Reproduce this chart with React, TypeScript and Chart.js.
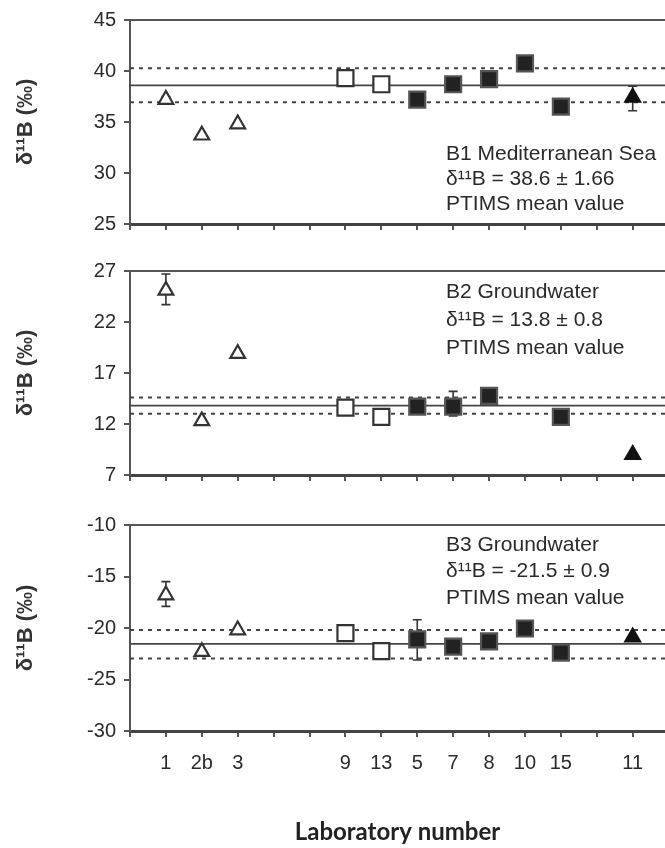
import React, { useEffect, useRef } from 'react';
import { Chart, registerables } from 'chart.js';

Chart.register(...registerables);

// ---- categories (laboratories) ----
const labs = ['1', '2b', '3', '9', '13', '5', '7', '8', '10', '15', '11'];
const labSlots = [1, 2, 3, 6, 7, 8, 9, 10, 11, 12, 14];
const labGroups = ['openTri', 'openTri', 'openTri', 'openSq', 'openSq', 'fillSq', 'fillSq', 'fillSq', 'fillSq', 'fillSq', 'fillTri'];

// ---- B1 Mediterranean Sea ----
const b1Values = [37.2, 33.7, 34.8, 39.3, 38.7, 37.2, 38.7, 39.2, 40.75, 36.5, 37.4];
const b1ErrLow = [36.95, null, null, null, null, 36.9, null, null, null, 36.2, 36.1];
const b1ErrHigh = [37.5, null, null, null, null, 37.5, null, null, null, 36.9, 38.5];
const b1Mean = 38.6;
const b1Band = [36.94, 40.26];
const b1Ticks = [25, 30, 35, 40, 45];
const b1Text = ['B1 Mediterranean Sea', 'δ¹¹B = 38.6 ± 1.66', 'PTIMS mean value'];

// ---- B2 Groundwater ----
const b2Values = [25.1, 12.3, 18.9, 13.6, 12.7, 13.7, 13.7, 14.75, null, 12.7, 9.0];
const b2ErrLow = [23.7, null, null, 13.0, null, null, 12.8, null, null, null, null];
const b2ErrHigh = [26.7, null, null, 14.1, null, null, 15.2, null, null, null, null];
const b2Mean = 13.8;
const b2Band = [13.0, 14.6];
const b2Ticks = [7, 12, 17, 22, 27];
const b2Text = ['B2 Groundwater', 'δ¹¹B = 13.8 ± 0.8', 'PTIMS mean value'];

// ---- B3 Groundwater ----
const b3Values = [-16.8, -22.3, -20.2, -20.5, -22.25, -21.1, -21.8, -21.3, -20.05, -22.4, -20.9];
const b3ErrLow = [-17.9, null, null, null, null, -23.1, null, null, null, null, null];
const b3ErrHigh = [-15.5, null, null, null, null, -19.2, null, null, null, null, null];
const b3Mean = -21.55;
const b3Band = [-22.97, -20.2];
const b3Ticks = [-30, -25, -20, -15, -10];
const b3Text = ['B3 Groundwater', 'δ¹¹B = -21.5 ± 0.9', 'PTIMS mean value'];

const X_MIN = 0;
const X_MAX = 14.9;
const FONT = '"Liberation Sans", Arial, Helvetica, sans-serif';

const groupStyle: Record<string, any> = {
  openTri: { pointStyle: 'triangle', radius: 8.5, bg: '#ffffff', border: '#333333' },
  openSq: { pointStyle: 'rect', radius: 11.3, bg: '#ffffff', border: '#333333' },
  fillSq: { pointStyle: 'rect', radius: 11.3, bg: '#222222', border: '#555555' },
  fillTri: { pointStyle: 'triangle', radius: 8.5, bg: '#111111', border: '#111111' },
};

const errorBarPlugin = {
  id: 'errorBars',
  beforeDatasetsDraw(chart: any, _args: any, opts: any) {
    const { ctx } = chart;
    const xs = chart.scales.x;
    const ys = chart.scales.y;
    const low = opts.low || [];
    const high = opts.high || [];
    ctx.save();
    ctx.strokeStyle = '#333';
    ctx.lineWidth = 1.6;
    for (let i = 0; i < labSlots.length; i++) {
      if (low[i] == null || high[i] == null) continue;
      const x = xs.getPixelForValue(labSlots[i]);
      const y1 = ys.getPixelForValue(low[i]);
      const y2 = ys.getPixelForValue(high[i]);
      ctx.beginPath();
      ctx.moveTo(x, y1);
      ctx.lineTo(x, y2);
      ctx.moveTo(x - 4.5, y1);
      ctx.lineTo(x + 4.5, y1);
      ctx.moveTo(x - 4.5, y2);
      ctx.lineTo(x + 4.5, y2);
      ctx.stroke();
    }
    ctx.restore();
  },
};

const framePlugin = {
  id: 'frameText',
  afterDraw(chart: any, _args: any, opts: any) {
    const { ctx, chartArea } = chart;
    ctx.save();
    // top border
    ctx.strokeStyle = '#555';
    ctx.lineWidth = 2;
    ctx.beginPath();
    ctx.moveTo(chartArea.left, chartArea.top);
    ctx.lineTo(chartArea.right, chartArea.top);
    ctx.stroke();
    // annotation text
    const lines: string[] = opts.lines || [];
    ctx.fillStyle = '#2a2a2a';
    ctx.font = `21px ${FONT}`;
    ctx.textAlign = 'left';
    ctx.textBaseline = 'middle';
    const x = chart.scales.x.getPixelForValue(opts.textX);
    lines.forEach((t, k) => {
      ctx.fillText(t, x, chartArea.top + opts.textTop + k * opts.lineGap);
    });
    ctx.restore();
  },
};

interface PanelCfg {
  values: (number | null)[];
  errLow: (number | null)[];
  errHigh: (number | null)[];
  mean: number;
  band: number[];
  ticks: number[];
  text: string[];
  top: number;
  height: number;
  padTop: number;
  xHeight: number;
  textTop: number;
  lineGap: number;
  bottom: boolean;
}

const panels: PanelCfg[] = [
  { values: b1Values, errLow: b1ErrLow, errHigh: b1ErrHigh, mean: b1Mean, band: b1Band, ticks: b1Ticks, text: b1Text, top: 0, height: 250, padTop: 16, xHeight: 26, textTop: 134, lineGap: 25, bottom: false },
  { values: b2Values, errLow: b2ErrLow, errHigh: b2ErrHigh, mean: b2Mean, band: b2Band, ticks: b2Ticks, text: b2Text, top: 250, height: 255, padTop: 21, xHeight: 30, textTop: 21, lineGap: 28, bottom: false },
  { values: b3Values, errLow: b3ErrLow, errHigh: b3ErrHigh, mean: b3Mean, band: b3Band, ticks: b3Ticks, text: b3Text, top: 505, height: 343, padTop: 20, xHeight: 117, textTop: 20, lineGap: 26.5, bottom: true },
];

function Panel({ cfg }: { cfg: PanelCfg }) {
  const ref = useRef<HTMLCanvasElement>(null);
  useEffect(() => {
    const groups = ['openTri', 'openSq', 'fillSq', 'fillTri'];
    const pointSets = groups.map((g) => {
      const st = groupStyle[g];
      const data: any[] = [];
      labs.forEach((_, i) => {
        if (labGroups[i] === g && cfg.values[i] != null) data.push({ x: labSlots[i], y: cfg.values[i] });
      });
      return {
        type: 'scatter' as const,
        data,
        order: 0,
        pointStyle: st.pointStyle,
        pointRadius: st.radius,
        pointBackgroundColor: st.bg,
        pointBorderColor: st.border,
        pointBorderWidth: 2.2,
        showLine: false,
      };
    });
    const refLine = (y: number, dashed: boolean) => ({
      type: 'line' as const,
      data: [{ x: X_MIN, y }, { x: X_MAX, y }],
      order: 10,
      borderColor: '#444',
      borderWidth: dashed ? 2 : 1.8,
      borderDash: dashed ? [4, 5] : [],
      pointRadius: 0,
      fill: false,
    });
    const lineSets = [refLine(cfg.mean, false), refLine(cfg.band[0], true), refLine(cfg.band[1], true)];

    const chart = new Chart(ref.current as HTMLCanvasElement, {
      type: 'scatter',
      data: { datasets: [...pointSets, ...lineSets] as any },
      plugins: [errorBarPlugin, framePlugin],
      options: {
        animation: false,
        responsive: false,
        devicePixelRatio: 1,
        layout: { autoPadding: false, padding: { top: cfg.padTop, left: 0, right: 0, bottom: 0 } },
        plugins: {
          legend: { display: false },
          tooltip: { enabled: false },
          errorBars: { low: cfg.errLow, high: cfg.errHigh },
          frameText: { lines: cfg.text, textX: 8.8, textTop: cfg.textTop, lineGap: cfg.lineGap },
        } as any,
        scales: {
          x: {
            type: 'linear',
            min: X_MIN,
            max: X_MAX,
            afterFit: (s: any) => {
              s.height = cfg.xHeight;
              s.paddingLeft = 0;
              s.paddingRight = 0;
            },
            ticks: {
              stepSize: 1,
              includeBounds: false,
              autoSkip: false,
              maxRotation: 0,
              padding: cfg.bottom ? 14 : 9,
              color: '#2a2a2a',
              font: { family: FONT, size: 20 },
              callback: (v: any) => {
                if (!cfg.bottom) return '';
                const i = labSlots.indexOf(Number(v));
                return i >= 0 ? labs[i] : '';
              },
            },
            grid: { drawOnChartArea: false, drawTicks: true, tickLength: 6, color: '#555', lineWidth: 2 },
            border: { color: '#444', width: 3 },
            title: {
              display: cfg.bottom,
              text: 'Laboratory number',
              color: '#222',
              font: { family: 'Lato, "Liberation Sans", sans-serif', size: 24, weight: 'bold' },
              padding: { top: 0, bottom: 1 },
            },
          },
          y: {
            type: 'linear',
            min: cfg.ticks[0],
            max: cfg.ticks[cfg.ticks.length - 1],
            afterBuildTicks: (s: any) => { s.ticks = cfg.ticks.map((v) => ({ value: v })); },
            afterFit: (s: any) => { s.width = 130; },
            ticks: {
              padding: 8,
              color: '#2a2a2a',
              font: { family: FONT, size: 20 },
              callback: (v: any) => String(v),
            },
            grid: { drawOnChartArea: false, drawTicks: true, tickLength: 6, color: '#555', lineWidth: 2 },
            border: { color: '#555', width: 2 },
            title: {
              display: true,
              text: 'δ¹¹B (‰)',
              color: '#333',
              font: { family: FONT, size: 22, weight: 'bold' },
              padding: { top: 13, bottom: 0 },
            },
          },
        },
      } as any,
    });
    return () => chart.destroy();
  }, []);
  return (
    <canvas
      ref={ref}
      width={665}
      height={cfg.height}
      style={{ position: 'absolute', left: 0, top: cfg.top, width: 665, height: cfg.height }}
    />
  );
}

export default function App() {
  return (
    <div style={{ position: 'absolute', left: 0, top: 0, width: 665, height: 848, background: '#fff', overflow: 'hidden' }}>
      {panels.map((p, i) => (
        <Panel key={i} cfg={p} />
      ))}
    </div>
  );
}
